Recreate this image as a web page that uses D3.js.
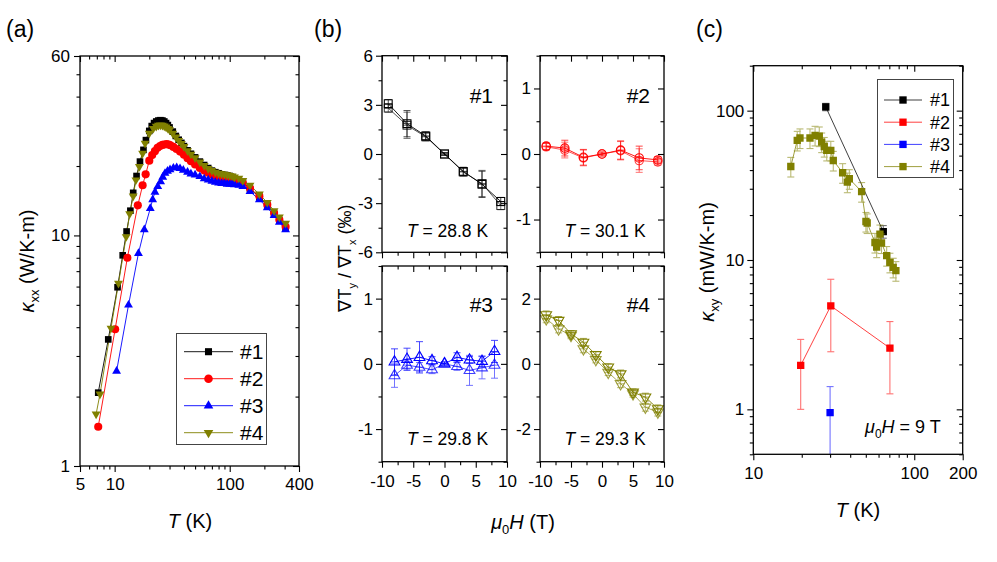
<!DOCTYPE html>
<html><head><meta charset="utf-8">
<script src="https://cdn.jsdelivr.net/npm/d3@7"></script>
<style>
body{margin:0;background:#fff}
svg{display:block}
text{font-family:"Liberation Sans",Arial,Helvetica,sans-serif;fill:#000}
</style>
</head><body>
<svg id="chart" width="997" height="562"></svg>
<script>
// ---------------- DATA ----------------
// Panel (a): kappa_xx vs T
const seriesNames = ["#1","#2","#3","#4"];
const seriesColors = ["#000000","#ff0000","#0000ff","#808000"];
const aT1 = [7.2,8.8,10.6,11.75,12.7,13.7,14.5,15.5,16.6,17.8,18.7,20,21,22,23,24,25,26,27,28,29,30,32,34,36,38,40,43,46,50,55,60,65,70,75,80,85,90,95,100,105,110,120,130,150,181,212,243,270,306];
const aK1 = [2.08,3.54,5.96,8.2,10.4,12.8,15.3,18.1,20.9,23.5,25.9,28.4,29.8,30.7,31.2,31.5,31.6,31.5,31.2,30.7,30.1,29.4,28.2,27.0,26.0,25.2,24.4,23.4,22.6,21.8,20.9,20.2,19.6,19.1,18.8,18.6,18.4,18.3,18.2,18.1,17.9,17.7,17.4,17.0,15.9,14.7,13.5,12.4,11.6,10.7];
const aT2 = [7.2,10.1,12.9,15.9,17.5,18.6,20.0,21.2,22.4,23.6,24.8,26,27,28.3,29.5,30.5,32.4,34.5,37,40,43,46,50,55,60,65,70,75,80,85,90,95,100,105,110,120,130,150,181,212,243,270,306];
const aK2 = [1.48,3.92,8.0,13.5,16.5,18.4,21.1,22.3,23.2,24.0,24.4,24.7,24.8,24.9,24.8,24.6,24.2,23.7,23.1,22.4,21.6,21.0,20.3,19.6,19.1,18.7,18.4,18.2,18.0,17.9,17.8,17.8,17.7,17.6,17.5,17.2,16.9,16.0,14.8,13.6,12.5,11.7,10.9];
const aT3 = [10.4,13.2,16.1,18.1,20.4,21.4,22.4,23.7,25.1,26.2,27.4,28.8,30.3,32.4,34.6,37,39.5,43,46,50,55,60,65,70,75,80,85,90,95,100,105,110,120,130,150,181,212,243,270,306];
const aK3 = [2.58,4.99,8.36,10.6,13.1,14.3,15.4,16.3,17.1,17.9,18.6,19.0,19.3,19.6,19.7,19.5,19.2,18.8,18.5,18.3,18.0,17.6,17.4,17.2,17.0,16.9,16.8,16.8,16.7,16.7,16.7,16.6,16.5,16.3,15.5,14.3,13.2,12.2,11.4,10.6];
const aT4 = [6.9,7.46,9.3,10.8,12.6,13.5,14.5,15.3,16.4,17.5,18.4,20,21.7,23,24,25,26,27,28,29,30,32,34,36,38,40,43,46,50,55,60,65,70,75,80,85,90,95,100,105,110,120,130,150,181,212,243,270,306];
const aK4 = [1.68,2.05,3.96,6.2,9.87,12.4,14.8,17.4,19.9,22.7,25.1,27.7,29.1,29.7,30.0,30.1,30.0,29.8,29.5,29.1,28.7,27.7,26.7,25.8,25.0,24.3,23.3,22.5,21.7,20.8,20.1,19.5,19.1,18.8,18.6,18.5,18.4,18.3,18.2,18.1,17.9,17.7,17.3,16.5,15.1,13.9,12.8,12.0,11.3];
const aXMajor = [5,10,100,400];
const aXMinor = [6,7,8,9,20,30,40,50,60,70,80,90,200,300];
const aYMajor = [1,10,60];
const aYMinor = [2,3,4,5,6,7,8,9,20,30,40,50];

// Panel (b): gradient ratio (per mille) vs field
const bH1 = [-9,-6,-3,0,3,6,9];
const bR1a = [3.07,1.85,1.1,0,-1.06,-1.85,-2.9];
const bR1b = [2.8,1.75,1.05,0,-1.1,-1.8,-3.15];
const bE1 = [0.25,0.8,0.25,0.08,0.25,0.8,0.25];
const bH2 = [-9,-6,-3,0,3,6,9];
const bR2a = [0.12,0.09,-0.05,0,0.06,-0.06,-0.09];
const bR2b = [0.11,0.06,-0.06,0,0.05,-0.1,-0.12];
const bE2 = [0.05,0.12,0.12,0.03,0.14,0.18,0.05];
const bH3 = [-8,-6,-4,-2,0,2,4,6,8];
const bR3a = [0.03,0.07,0.1,0.05,0,0.1,0.06,0.04,0.19];
const bE3a = [0.2,0.17,0.24,0.06,0.03,0.07,0.05,0.08,0.17];
const bR3b = [-0.18,-0.02,-0.05,-0.09,0,-0.04,-0.1,-0.06,-0.02];
const bE3b = [0.18,0.06,0.07,0.06,0.03,0.06,0.23,0.17,0.2];
const bH4 = [-9,-7,-5,-3,-1,1,3,5,7,9];
const bR4a = [1.5,1.33,0.92,0.66,0.28,-0.1,-0.31,-0.87,-1.02,-1.38];
const bR4b = [1.38,1.07,0.87,0.46,0.13,-0.26,-0.61,-0.92,-1.33,-1.48];
const bE4 = [0.12,0.12,0.1,0.12,0.1,0.1,0.12,0.1,0.12,0.12];
const bTemps = ["28.8","30.1","29.8","29.3"];
const bXTicks = [-10,-5,0,5,10];
const bXMinor = [-7.5,-2.5,2.5,7.5];

// Panel (c): kappa_xy vs T
const cT1 = [28.2,64.2], cK1 = [105.9,15.5], cE1 = [6,1.5];
const cT2 = [19.7,30.3,70.6], cK2 = [1.97,4.93,2.57], cE2 = [0.97,2.5,1.3];
const cT3 = [30.0], cK3 = [0.95], cE3 = [0.47];
const cT4 = [17.1,18.75,19.5,22.5,24.2,25.7,26.6,27.6,28.6,30.3,31.4,35.9,38.4,39.5,47.1,50.1,51.0,57.0,58.4,61.2,62.6,67.4,70.6,74.0,76.9];
const cK4 = [42.3,63.2,65.6,65.6,68.3,67.6,61.6,57.5,54.2,54.2,46.4,38.4,33.2,35.0,28.7,18.1,17.7,13.1,12.2,14.9,13.0,10.7,9.65,8.93,8.48];
const cXMajor = [10,100,200];
const cXMinor = [20,30,40,50,60,70,80,90];
const cYMajor = [1,10,100];
const cYMinor = [0.5,0.6,0.7,0.8,0.9,2,3,4,5,6,7,8,9,20,30,40,50,60,70,80,90,200];

// ---------------- DRAWING ----------------
const svg = d3.select("#chart");
const FONT = '"Liberation Sans",Arial,Helvetica,sans-serif';

function axis(g, gen, tr, vals, size, fmt, pad, fs){
  const a = g.append("g").attr("transform", tr)
    .call(gen.tickValues(vals).tickSize(size).tickPadding(pad||3).tickFormat(fmt || (()=> "")));
  a.select(".domain").remove();
  a.selectAll("line").attr("stroke","#000").attr("stroke-width",1.1);
  a.selectAll("text").attr("font-size", fs||17).attr("font-family",FONT).attr("fill","#000");
  return a;
}
function frame(g, x, y, o){
  const [x0,x1] = x.range(), [yb,yt] = y.range();
  const MJ = 6, MN = 3.5;
  axis(g, d3.axisBottom(x), `translate(0,${yb})`, o.xMaj, MJ, o.xFmt, o.xPad||6);
  axis(g, d3.axisBottom(x), `translate(0,${yb})`, o.xMin, MN);
  axis(g, d3.axisBottom(x), `translate(0,${yt})`, o.xMaj, MJ);
  axis(g, d3.axisBottom(x), `translate(0,${yt})`, o.xMin, MN);
  axis(g, d3.axisLeft(y), `translate(${x0},0)`, o.yMaj, MJ, o.yFmt, o.yPad||4);
  axis(g, d3.axisLeft(y), `translate(${x0},0)`, o.yMin, MN);
  axis(g, d3.axisLeft(y), `translate(${x1},0)`, o.yMaj, MJ);
  axis(g, d3.axisLeft(y), `translate(${x1},0)`, o.yMin, MN);
  g.append("rect").attr("x",x0).attr("y",yt).attr("width",x1-x0).attr("height",yb-yt)
    .attr("fill","none").attr("stroke","#000").attr("stroke-width",1.3);
}
function clip(id, x, y){
  const [x0,x1] = x.range(), [yb,yt] = y.range();
  svg.append("clipPath").attr("id",id).append("rect").attr("x",x0).attr("y",yt).attr("width",x1-x0).attr("height",yb-yt);
  return `url(#${id})`;
}
const strFmt = d => String(d);

// panel labels
[["(a)",6],["(b)",314],["(c)",696]].forEach(([t,x])=>{
  svg.append("text").attr("x",x).attr("y",37).attr("font-size",23).text(t);
});

// ---------- Panel (a) ----------
const xA = d3.scaleLog().domain([5,400]).range([80,299]);
const yA = d3.scaleLog().domain([1,60]).range([466,56]);
const gA = svg.append("g");
const aData = [[aT1,aK1],[aT2,aK2],[aT3,aK3],[aT4,aK4]];
const symTypes = [d3.symbolSquare, d3.symbolCircle, d3.symbolTriangle, d3.symbolTriangle];
const symSizes = [44, 52, 34, 34];
const gAd = gA.append("g").attr("clip-path", clip("clipA", xA, yA));
aData.forEach(([T,K],i)=>{
  const pts = T.map((t,j)=>[t,K[j]]);
  gAd.append("path").datum(pts).attr("fill","none").attr("stroke",seriesColors[i]).attr("stroke-width",0.9)
    .attr("d", d3.line().x(d=>xA(d[0])).y(d=>yA(d[1])));
});
aData.forEach(([T,K],i)=>{
  const pts = T.map((t,j)=>[t,K[j]]);
  gAd.selectAll(null).data(pts).join("path")
    .attr("transform", d=>`translate(${xA(d[0])},${yA(d[1])})${i===3?" rotate(180)":""}`)
    .attr("d", d3.symbol().type(symTypes[i]).size(symSizes[i]))
    .attr("fill", seriesColors[i]);
});
frame(gA, xA, yA, {xMaj:aXMajor, xMin:aXMinor, yMaj:aYMajor, yMin:aYMinor, xFmt:strFmt, yFmt:strFmt, xPad:6, yPad:4});
// legend (a)
const legA = gA.append("g");
legA.append("rect").attr("x",176.5).attr("y",333.5).attr("width",90).attr("height",111)
  .attr("fill","#fff").attr("stroke","#444").attr("stroke-width",1);
seriesNames.forEach((n,i)=>{
  const yy = 351.7 + i*27;
  legA.append("line").attr("x1",184).attr("x2",233).attr("y1",yy).attr("y2",yy)
    .attr("stroke",seriesColors[i]).attr("stroke-width",0.9);
  legA.append("path").attr("transform",`translate(208.5,${yy})${i===3?" rotate(180)":""}`)
    .attr("d", d3.symbol().type(symTypes[i]).size(symSizes[i]+6)).attr("fill",seriesColors[i]);
  legA.append("text").attr("x",240).attr("y",yy).attr("dy","0.36em").attr("font-size",21).text(n);
});
// axis titles (a)
const tA = gA.append("text").attr("transform","translate(34,261) rotate(-90)").attr("text-anchor","middle").attr("font-size",20);
tA.append("tspan").attr("font-style","italic").text("κ");
tA.append("tspan").attr("font-size",13).attr("dy",5).text("xx");
tA.append("tspan").attr("dy",-5).text(" (W/K-m)");
const tAx = gA.append("text").attr("x",190).attr("y",528).attr("text-anchor","middle").attr("font-size",20);
tAx.append("tspan").attr("font-style","italic").text("T");
tAx.append("tspan").text(" (K)");

// ---------- Panel (b) ----------
const xB = [d3.scaleLinear([-10,10],[382,507]), d3.scaleLinear([-10,10],[540,664])];
const yRows = [[252.3,55.7],[461.7,266]];
const bPanels = [
  {col:0,row:0,dom:[-6,6],maj:[-6,-3,0,3,6],min:[-4.5,-1.5,1.5,4.5],H:bH1,sets:[[bR1a,bE1],[bR1b,bE1]],sym:"square"},
  {col:1,row:0,dom:[-1.5,1.5],maj:[-1,0,1],min:[-1.5,-0.5,0.5,1.5],H:bH2,sets:[[bR2a,bE2],[bR2b,bE2]],sym:"circle"},
  {col:0,row:1,dom:[-1.5,1.5],maj:[-1,0,1],min:[-1.5,-0.5,0.5,1.5],H:bH3,sets:[[bR3a,bE3a],[bR3b,bE3b]],sym:"up"},
  {col:1,row:1,dom:[-3,3],maj:[-2,0,2],min:[-3,-1,1,3],H:bH4,sets:[[bR4a,bE4],[bR4b,bE4]],sym:"down"}
];
const gB = svg.append("g");
bPanels.forEach((p,pi)=>{
  const x = xB[p.col];
  const y = d3.scaleLinear(p.dom, yRows[p.row]);
  const col = seriesColors[pi];
  const g = gB.append("g");
  const gd = g.append("g").attr("clip-path", clip("clipB"+pi, x, y));
  p.sets.forEach(([R,E],si)=>{
    const op = si===0 ? 1 : 0.75;
    const pts = p.H.map((h,j)=>({h, v:R[j], e:E[j]}));
    gd.append("path").datum(pts).attr("fill","none").attr("stroke",col).attr("stroke-width",1).attr("opacity",op*0.9)
      .attr("d", d3.line().x(d=>x(d.h)).y(d=>y(d.v)));
    const eg = gd.append("g").attr("stroke",col).attr("stroke-width",0.9).attr("opacity",op*0.8);
    pts.forEach(d=>{
      const cx = x(d.h), y1 = y(d.v+d.e), y2 = y(d.v-d.e), cy = y(d.v);
      eg.append("line").attr("x1",cx).attr("x2",cx).attr("y1",y1).attr("y2",y2);
      eg.append("line").attr("x1",cx-3.5).attr("x2",cx+3.5).attr("y1",y1).attr("y2",y1);
      eg.append("line").attr("x1",cx-3.5).attr("x2",cx+3.5).attr("y1",y2).attr("y2",y2);
      eg.append("line").attr("x1",cx-4).attr("x2",cx+4).attr("y1",cy).attr("y2",cy);
    });
    const mg = gd.append("g").attr("opacity",op);
    pts.forEach(d=>{
      const cx = x(d.h), cy = y(d.v);
      let sym, rot = "";
      if (p.sym==="square") sym = d3.symbol().type(d3.symbolSquare).size(62);
      else if (p.sym==="circle") sym = d3.symbol().type(d3.symbolCircle).size(56);
      else { sym = d3.symbol().type(d3.symbolTriangle).size(50); if (p.sym==="down") rot = " rotate(180)"; }
      mg.append("path").attr("transform",`translate(${cx},${cy})${rot}`).attr("d",sym)
        .attr("fill","none").attr("stroke",col).attr("stroke-width",1.1);
    });
  });
  frame(g, x, y, {xMaj:bXTicks, xMin:bXMinor, yMaj:p.maj, yMin:p.min,
    xFmt: p.row===1 ? strFmt : null, yFmt:strFmt, xPad:7, yPad:3});
  const [x0,x1] = x.range();
  g.append("text").attr("x",x1-14).attr("y",p.row===0?103:312).attr("text-anchor","end").attr("font-size",21).text(seriesNames[pi]);
  const tt = g.append("text").attr("x",(x0+x1)/2+3).attr("y",p.row===0?237:445).attr("text-anchor","middle").attr("font-size",17.5);
  tt.append("tspan").attr("font-style","italic").text("T");
  tt.append("tspan").text(" = " + bTemps[pi] + " K");
});
const tB = gB.append("text").attr("transform","translate(351,258) rotate(-90)").attr("text-anchor","middle").attr("font-size",18);
tB.append("tspan").text("∇T");
tB.append("tspan").attr("font-size",11).attr("dy",5).text("y");
tB.append("tspan").attr("dy",-5).text(" / ∇T");
tB.append("tspan").attr("font-size",11).attr("dy",5).text("x");
tB.append("tspan").attr("dy",-5).text(" (‰)");
const tBx = gB.append("text").attr("x",523).attr("y",529).attr("text-anchor","middle").attr("font-size",20);
tBx.append("tspan").attr("font-style","italic").text("μ");
tBx.append("tspan").attr("font-size",13).attr("dy",5).text("0");
tBx.append("tspan").attr("dy",-5).attr("font-style","italic").text("H");
tBx.append("tspan").text(" (T)");

// ---------- Panel (c) ----------
const xC = d3.scaleLog().domain([10,200]).range([753.3,962.7]);
const yC = d3.scaleLog().domain([0.5,200]).range([454.3,65.7]);
const gC = svg.append("g");
const gCd = gC.append("g").attr("clip-path", clip("clipC", xC, yC));
const cData = [[cT1,cK1,cE1],[cT2,cK2,cE2],[cT3,cK3,cE3],[cT4,cK4,null]];
cData.forEach(([T,K,E],i)=>{
  const pts = T.map((t,j)=>({t, k:K[j], e: E ? E[j] : K[j]*0.15}));
  const col = seriesColors[i];
  if (pts.length>1) gCd.append("path").datum(pts).attr("fill","none").attr("stroke",col).attr("stroke-width",1).attr("opacity",0.75)
    .attr("d", d3.line().x(d=>xC(d.t)).y(d=>yC(d.k)));
  const eg = gCd.append("g").attr("stroke",col).attr("stroke-width",1.1).attr("opacity",0.55);
  pts.forEach(d=>{
    const cx = xC(d.t), y1 = yC(d.k+d.e), y2 = yC(Math.max(d.k-d.e,0.3));
    eg.append("line").attr("x1",cx).attr("x2",cx).attr("y1",y1).attr("y2",y2);
    eg.append("line").attr("x1",cx-3.5).attr("x2",cx+3.5).attr("y1",y1).attr("y2",y1);
    eg.append("line").attr("x1",cx-3.5).attr("x2",cx+3.5).attr("y1",y2).attr("y2",y2);
  });
  gCd.selectAll(null).data(pts).join("path")
    .attr("transform", d=>`translate(${xC(d.t)},${yC(d.k)})`)
    .attr("d", d3.symbol().type(d3.symbolSquare).size(54)).attr("fill",col);
});
frame(gC, xC, yC, {xMaj:cXMajor, xMin:cXMinor, yMaj:cYMajor, yMin:cYMinor, xFmt:strFmt, yFmt:strFmt, xPad:7, yPad:3});
// legend (c)
const legC = gC.append("g");
legC.append("rect").attr("x",877.5).attr("y",79.5).attr("width",76).attr("height",98)
  .attr("fill","#fff").attr("stroke","#444").attr("stroke-width",1);
seriesNames.forEach((n,i)=>{
  const yy = 100 + i*22.2;
  legC.append("line").attr("x1",884).attr("x2",922).attr("y1",yy).attr("y2",yy)
    .attr("stroke",seriesColors[i]).attr("stroke-width",1).attr("opacity",0.75);
  legC.append("path").attr("transform",`translate(903,${yy})`)
    .attr("d", d3.symbol().type(d3.symbolSquare).size(54)).attr("fill",seriesColors[i]);
  legC.append("text").attr("x",930).attr("y",yy).attr("dy","0.36em").attr("font-size",18).text(n);
});
const tC = gC.append("text").attr("transform","translate(714,262) rotate(-90)").attr("text-anchor","middle").attr("font-size",20);
tC.append("tspan").attr("font-style","italic").text("κ");
tC.append("tspan").attr("font-size",13).attr("dy",5).text("xy");
tC.append("tspan").attr("dy",-5).text(" (mW/K-m)");
const tCx = gC.append("text").attr("x",858).attr("y",517).attr("text-anchor","middle").attr("font-size",20);
tCx.append("tspan").attr("font-style","italic").text("T");
tCx.append("tspan").text(" (K)");
const tCh = gC.append("text").attr("x",865).attr("y",433).attr("font-size",18);
tCh.append("tspan").attr("font-style","italic").text("μ");
tCh.append("tspan").attr("font-size",12).attr("dy",5).text("0");
tCh.append("tspan").attr("dy",-5).attr("font-style","italic").text("H");
tCh.append("tspan").text(" = 9 T");
</script>
</body></html>
